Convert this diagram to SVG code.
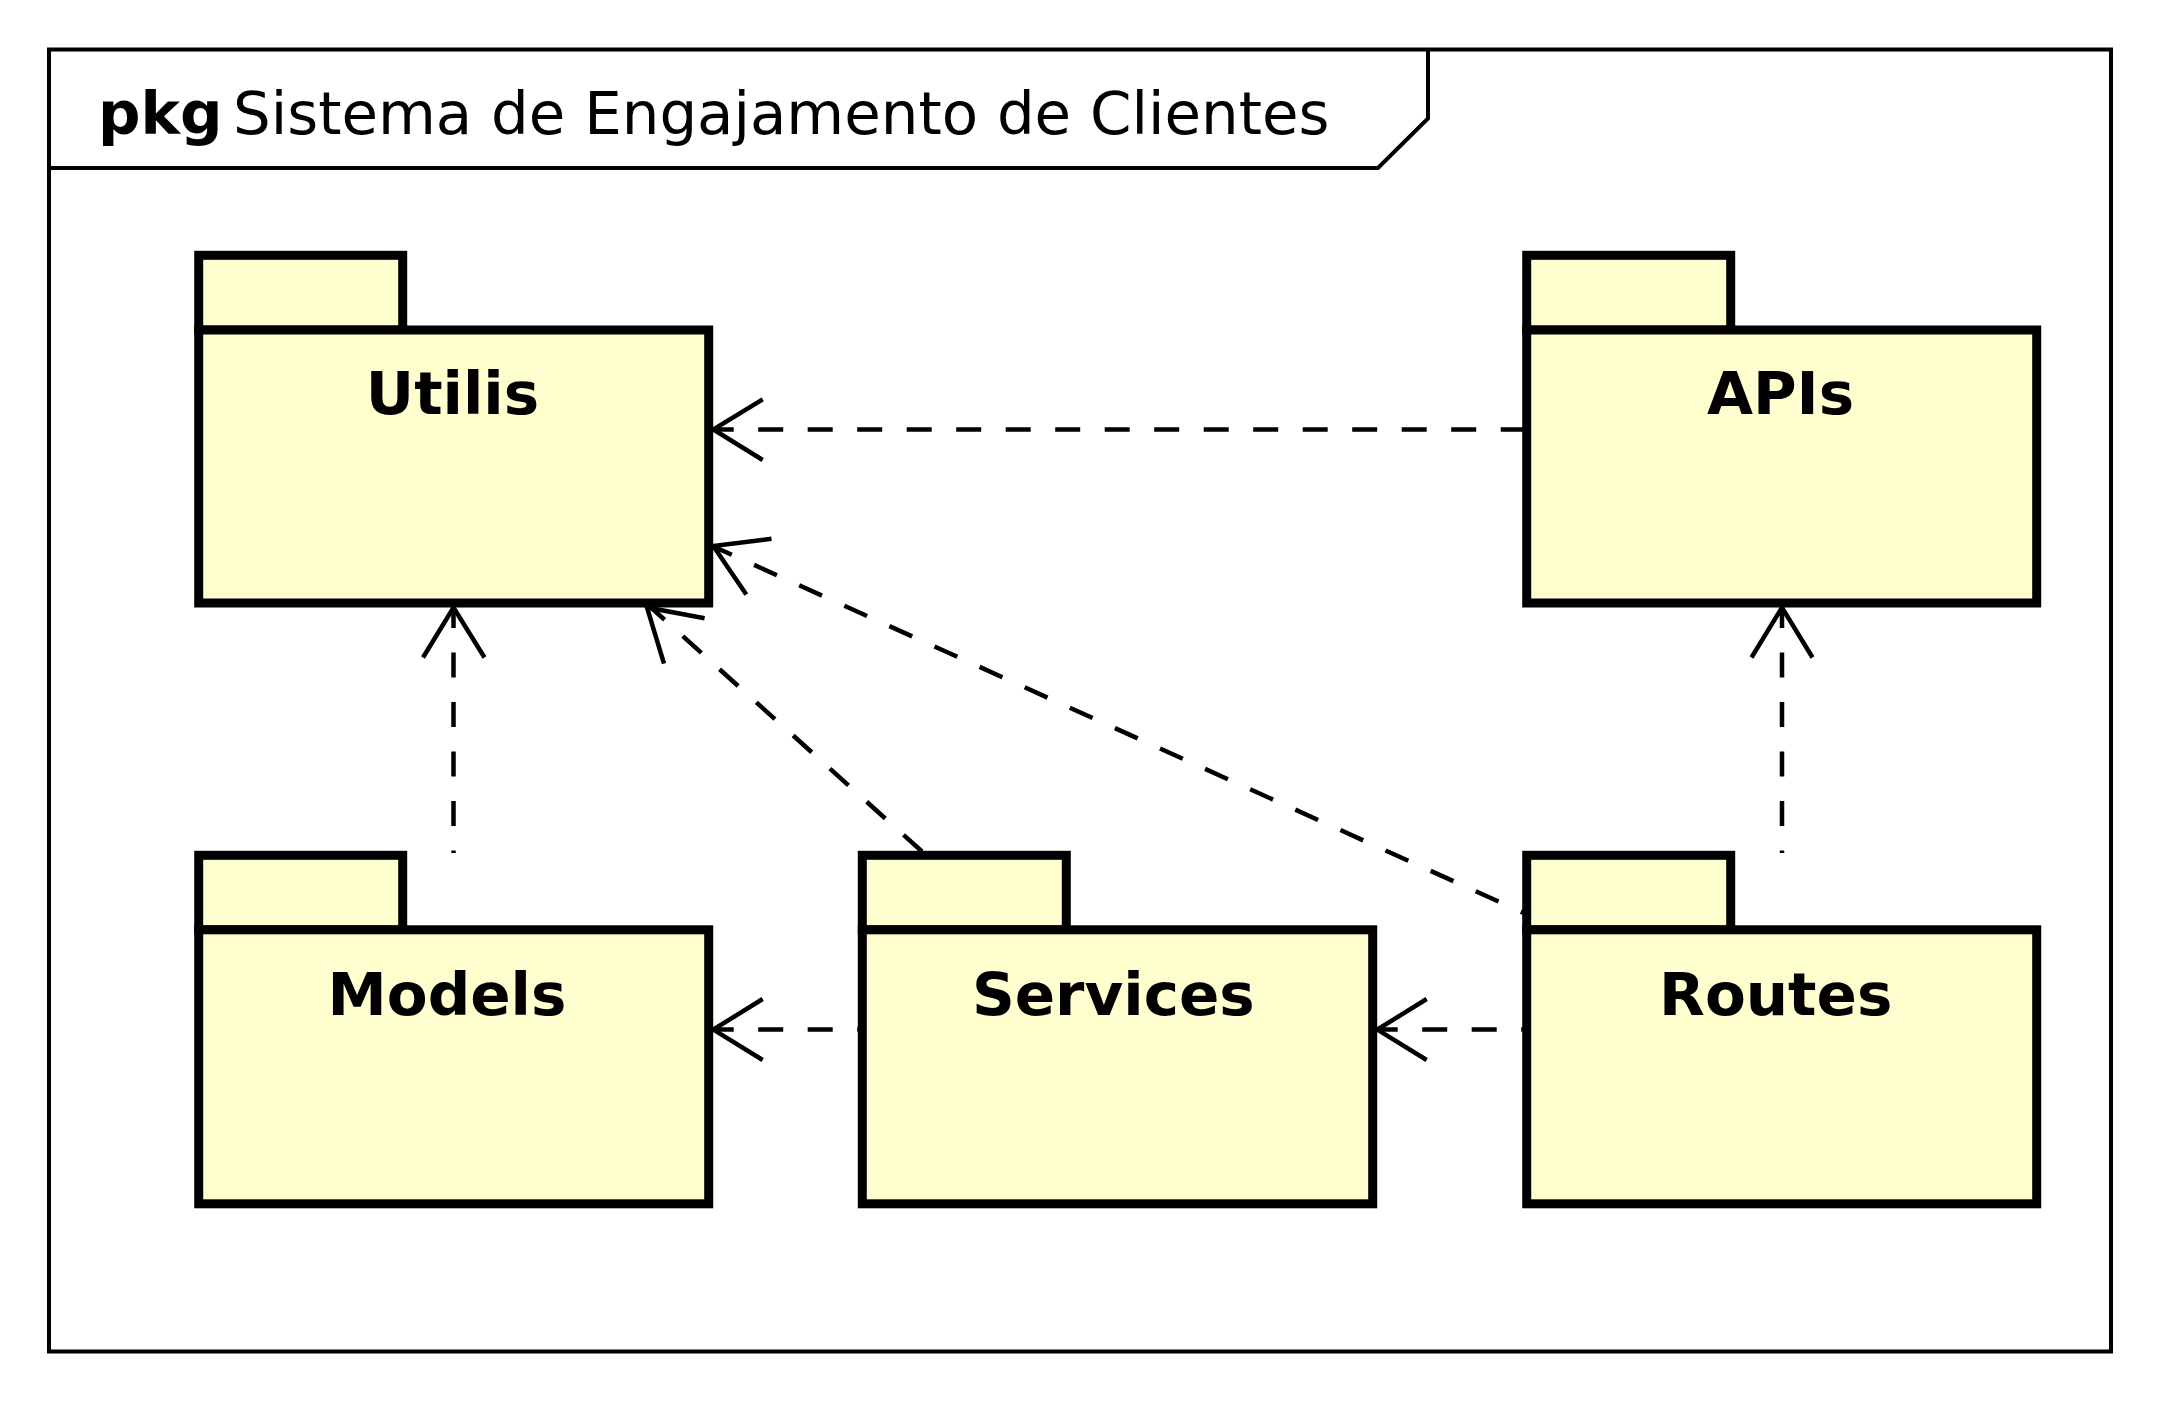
<svg xmlns="http://www.w3.org/2000/svg" width="2160" height="1402" viewBox="0 0 2160 1402">
<defs>
<style>
.frame{fill:none;stroke:#000;stroke-width:4}
.pkg rect{fill:#FEFECE;stroke:#000;stroke-width:9}
.lbl{font-family:"DejaVu Sans","Liberation Sans",sans-serif;font-size:59.5px;font-weight:bold;text-anchor:middle;fill:#000}
.ttl{font-family:"DejaVu Sans","Liberation Sans",sans-serif;font-size:59.4px;fill:#000}
.dep{fill:none;stroke:#000;stroke-width:4.5;stroke-dasharray:25 24.5}
.head{fill:none;stroke:#000;stroke-width:4.5}
</style>
</defs>
<rect width="2160" height="1402" fill="#fff"/>
<g id="frame">
<rect class="frame" x="49" y="49.5" width="2062" height="1302"/>
<path class="frame" d="M49 168 H1378 L1428 118.5 V49.5"/>
<text class="ttl" y="134"><tspan x="98" font-weight="bold">pkg</tspan><tspan x="233">Sistema de Engajamento de Clientes</tspan></text>
</g>
<g id="utilis" class="pkg">
<rect x="198.7" y="255.3" width="204" height="74.7"/>
<rect x="198.7" y="330" width="510" height="273"/>
<text class="lbl" x="452.5" y="414">Utilis</text>
</g>
<g id="apis" class="pkg">
<rect x="1526.7" y="255.3" width="204" height="74.7"/>
<rect x="1526.7" y="330" width="510" height="273"/>
<text class="lbl" x="1780.5" y="414">APIs</text>
</g>
<g id="models" class="pkg">
<rect x="198.7" y="855.3" width="204" height="74.5"/>
<rect x="198.7" y="929.8" width="510" height="274"/>
<text class="lbl" x="447" y="1014.5">Models</text>
</g>
<g id="services" class="pkg">
<rect x="862.3" y="855.3" width="204" height="74.5"/>
<rect x="862.3" y="929.8" width="510.4" height="274"/>
<text class="lbl" x="1113.3" y="1014.5">Services</text>
</g>
<g id="routes" class="pkg">
<rect x="1526.7" y="855.3" width="204" height="74.5"/>
<rect x="1526.7" y="929.8" width="510" height="274"/>
<text class="lbl" x="1775.7" y="1014.5">Routes</text>
</g>
<g id="connectors">
<path class="dep" d="M708.7 429.5 H1526"/>
<polyline class="head" points="762.7,399.3 713.3,429.5 762.7,460"/>
<path class="dep" d="M453.5 603 V853"/>
<polyline class="head" points="423,657.5 453.5,607.5 484.5,657.5"/>
<path class="dep" d="M1782 603 V853"/>
<polyline class="head" points="1751.5,657.5 1782,607.5 1812.5,657.5"/>
<path class="dep" d="M708.7 1029.6 H862"/>
<polyline class="head" points="762.7,999 713.3,1029.6 762.7,1060"/>
<path class="dep" d="M1372.7 1029.6 H1526"/>
<polyline class="head" points="1426.7,999 1377.3,1029.6 1426.7,1060"/>
<path class="dep" d="M646 603 L922 851.5"/>
<polyline class="head" points="664,663.6 647,607.5 704.6,618.2"/>
<path class="dep" d="M709 544.5 L1526 914"/>
<polyline class="head" points="746.3,594.4 713.3,546 771.5,538.8"/>
</g>
</svg>
